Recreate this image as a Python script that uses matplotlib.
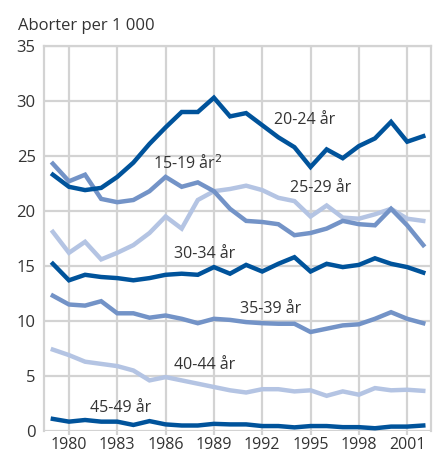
import matplotlib
matplotlib.use("Agg")
import matplotlib.pyplot as plt

# Aborter per 1 000 kvinner, etter alder
years = list(range(1979, 2003))

age_15_19 = [24.3, 22.7, 23.3, 21.1, 20.8, 21.0, 21.8, 23.1, 22.2, 22.6, 21.8, 20.2,
             19.1, 19.0, 18.8, 17.8, 18.0, 18.4, 19.1, 18.8, 18.7, 20.2, 18.7, 16.9]
age_20_24 = [23.3, 22.2, 21.9, 22.1, 23.1, 24.4, 26.1, 27.6, 29.0, 29.0, 30.3, 28.6,
             28.9, 27.8, 26.7, 25.8, 24.0, 25.6, 24.8, 25.9, 26.6, 28.1, 26.3, 26.8]
age_25_29 = [18.1, 16.2, 17.2, 15.6, 16.2, 16.9, 18.0, 19.5, 18.4, 21.0, 21.8, 22.0,
             22.3, 21.9, 21.2, 20.9, 19.5, 20.5, 19.4, 19.3, 19.7, 20.2, 19.3, 19.1]
age_30_34 = [15.2, 13.7, 14.2, 14.0, 13.9, 13.7, 13.9, 14.2, 14.3, 14.2, 14.9, 14.3,
             15.1, 14.5, 15.2, 15.8, 14.5, 15.2, 14.9, 15.1, 15.7, 15.2, 14.9, 14.4]
age_35_39 = [12.3, 11.5, 11.4, 11.8, 10.7, 10.7, 10.3, 10.5, 10.2, 9.8, 10.2, 10.1,
             9.9, 9.8, 9.75, 9.75, 9.0, 9.3, 9.6, 9.7, 10.2, 10.8, 10.2, 9.8]
age_40_44 = [7.4, 6.9, 6.3, 6.1, 5.9, 5.5, 4.6, 4.9, 4.6, 4.3, 4.0, 3.7,
             3.5, 3.8, 3.8, 3.6, 3.7, 3.2, 3.6, 3.3, 3.9, 3.7, 3.75, 3.65]
age_45_49 = [1.1, 0.85, 1.0, 0.85, 0.85, 0.55, 0.9, 0.6, 0.5, 0.5, 0.65, 0.6,
             0.6, 0.45, 0.45, 0.33, 0.45, 0.45, 0.35, 0.35, 0.25, 0.4, 0.4, 0.5]

xticks = [1980, 1983, 1986, 1989, 1992, 1995, 1998, 2001]
yticks = [0, 5, 10, 15, 20, 25, 30, 35]

dark = "#00539b"
mid = "#7393c7"
light = "#b4c4e3"
grid = "#d3d3d3"
txt = "#333333"

plt.rcParams["font.family"] = ["Open Sans", "DejaVu Sans"]

fig = plt.figure(figsize=(4.4, 4.53), dpi=100)
ax = fig.add_axes([44 / 440, 22 / 453, 387 / 440, 385 / 453])

lw = 3.2
ax.plot(years, age_45_49, color=dark, lw=lw, solid_joinstyle="miter")
ax.plot(years, age_40_44, color=light, lw=lw, solid_joinstyle="miter")
ax.plot(years, age_35_39, color=mid, lw=lw, solid_joinstyle="miter")
ax.plot(years, age_30_34, color=dark, lw=lw, solid_joinstyle="miter")
ax.plot(years, age_25_29, color=light, lw=lw, solid_joinstyle="miter")
ax.plot(years, age_15_19, color=mid, lw=lw, solid_joinstyle="miter")
ax.plot(years, age_20_24, color=dark, lw=lw, solid_joinstyle="miter")

fs = 11.5
ax.text(1994.66, 28.3, "20-24 år", ha="center", va="center", fontsize=fs, color=txt)
ax.text(1985.2, 24.3, "15-19 år$^2$", ha="left", va="center", fontsize=fs, color=txt)
ax.text(1995.65, 22.1, "25-29 år", ha="center", va="center", fontsize=fs, color=txt)
ax.text(1988.45, 16.1, "30-34 år", ha="center", va="center", fontsize=fs, color=txt)
ax.text(1992.5, 11.1, "35-39 år", ha="center", va="center", fontsize=fs, color=txt)
ax.text(1988.4, 6.0, "40-44 år", ha="center", va="center", fontsize=fs, color=txt)
ax.text(1983.2, 2.1, "45-49 år", ha="center", va="center", fontsize=fs, color=txt)

ax.set_xlim(1978.45, 2002.48)
ax.set_ylim(0, 35)
ax.set_xticks(xticks)
ax.set_yticks(yticks)
ax.set_xticklabels([str(y) for y in xticks])
ax.grid(True, color=grid, lw=1.6)
ax.set_axisbelow(True)
for s in ax.spines.values():
    s.set_color(grid)
    s.set_linewidth(1.6)
ax.spines["bottom"].set_visible(False)
ax.tick_params(axis="x", length=3, width=1.6, color=grid, pad=1, labelsize=11.5, labelcolor=txt)
ax.tick_params(axis="y", length=0, pad=6, labelsize=12, labelcolor=txt)

fig.text(18 / 440, 1 - 30 / 453, "Aborter per 1 000", fontsize=12, color=txt, ha="left", va="baseline")

fig.savefig("out.png", dpi=100)
